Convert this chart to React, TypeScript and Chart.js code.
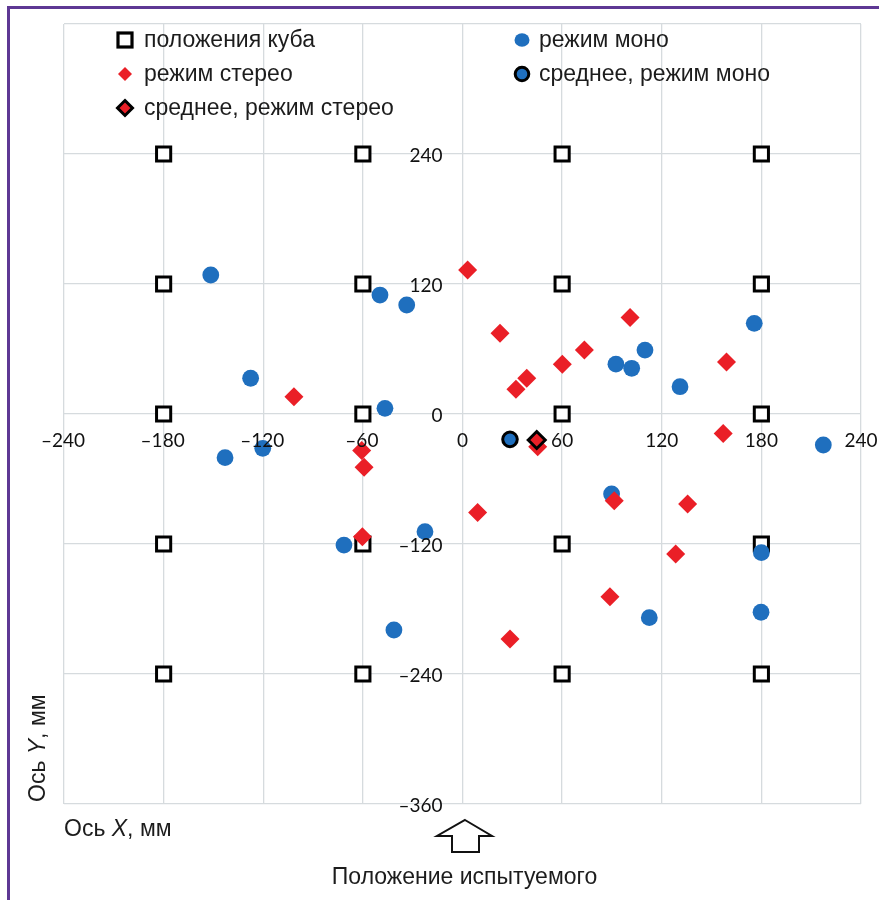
import React, { useEffect, useRef } from 'react';
import { Chart, registerables } from 'chart.js';

Chart.register(...registerables);

// Cube positions (mm)
const cubeX = [-180, -60, 60, 180, -180, -60, 60, 180, -180, -60, 60, 180, -180, -60, 60, 180, -180, -60, 60, 180];
const cubeY = [240, 240, 240, 240, 120, 120, 120, 120, 0, 0, 0, 0, -120, -120, -120, -120, -240, -240, -240, -240];

// Mono mode responses
const monoX = [-151.6, -49.7, -33.6, -127.6, -46.7, -143, -120.3, -71.4, -22.6, -41.3, 92.4, 101.9, 109.9, 131, 175.7, 217.3, 89.8, 112.5, 180, 179.8];
const monoY = [128.3, 109.8, 100.6, 33, 5.2, -40.3, -31.7, -121, -108.6, -199.4, 46, 42.2, 59, 25.2, 83.7, -28.6, -73.8, -188, -128, -183];

// Stereo mode responses
const stereoX = [3.1, 22.6, 38.7, 32.2, 60.1, 73.4, 100.9, 159, -101.5, -60.7, -59.3, -60.3, 45.3, 9.1, 91.4, 135.6, 157, 128.4, 88.8, 28.6];
const stereoY = [133, 74.5, 33, 22.8, 46, 59, 89, 48, 16, -33.8, -49.2, -113.2, -30.2, -91, -80, -83, -17.9, -129.2, -168.6, -207.7];

// Means
const meanMonoX = [28.6];
const meanMonoY = [-23.4];
const meanStereoX = [44.7];
const meanStereoY = [-24];

const xTickValues = [-240, -180, -120, -60, 0, 60, 120, 180, 240];
const yTickValues = [240, 120, 0, -120, -240, -360];

const seriesNames = ['положения куба', 'режим моно', 'режим стерео', 'среднее, режим моно', 'среднее, режим стерео'];
const xTitle: [string, boolean][] = [['Ось ', false], ['X', true], [', мм', false]];
const yTitle: [string, boolean][] = [['Ось ', false], ['Y', true], [', мм', false]];
const subjectLabel = 'Положение испытуемого';

const BLUE = '#1f6fbe';
const RED = '#ea1f27';
const TEXT = '#1c1c1c';
const FONT = '"Liberation Sans", Arial, sans-serif';

const zip = (xs: number[], ys: number[]) => xs.map((x, i) => ({ x, y: ys[i] }));
const fmt = (v: number) => (v < 0 ? '–' + Math.abs(v) : String(v));

function drawMixed(ctx: CanvasRenderingContext2D, parts: [string, boolean][], x: number, y: number, size: number) {
  let cx = x;
  for (const [t, italic] of parts) {
    ctx.font = `${italic ? 'italic ' : ''}${size}px ${FONT}`;
    ctx.fillText(t, cx, y);
    cx += ctx.measureText(t).width;
  }
}

function diamond(ctx: CanvasRenderingContext2D, x: number, y: number, r: number) {
  ctx.beginPath();
  ctx.moveTo(x, y - r);
  ctx.lineTo(x + r, y);
  ctx.lineTo(x, y + r);
  ctx.lineTo(x - r, y);
  ctx.closePath();
}

const decor = {
  id: 'decor',
  beforeDraw(chart: any) {
    const ctx: CanvasRenderingContext2D = chart.ctx;
    ctx.save();
    ctx.fillStyle = '#ffffff';
    ctx.fillRect(0, 0, chart.width, chart.height);
    ctx.strokeStyle = '#5e3894';
    ctx.lineWidth = 3;
    ctx.beginPath();
    ctx.moveTo(8.5, chart.height);
    ctx.lineTo(8.5, 7.5);
    ctx.lineTo(chart.width, 7.5);
    ctx.stroke();
    ctx.restore();
  },
  afterDatasetsDraw(chart: any) {
    const ctx: CanvasRenderingContext2D = chart.ctx;
    const xs = chart.scales.x;
    const ys = chart.scales.y;
    const area = chart.chartArea;
    const x0 = xs.getPixelForValue(0);
    const y0 = ys.getPixelForValue(0);
    ctx.save();

    // tick labels
    ctx.fillStyle = '#111';
    ctx.font = '19px Lato, "Open Sans", sans-serif';
    ctx.textBaseline = 'alphabetic';
    ctx.textAlign = 'center';
    xTickValues.forEach((v) => ctx.fillText(fmt(v), xs.getPixelForValue(v) - (v < 0 ? 1 : 0), y0 + 32.5));
    ctx.textAlign = 'right';
    yTickValues.forEach((v) => ctx.fillText(fmt(v), x0 - 20, ys.getPixelForValue(v) + 7.5));

    // legend
    const colMarker = [area.left + 61, area.left + 458];
    const colText = [area.left + 80, area.left + 475];
    const rowY = [area.top + 16, area.top + 50, area.top + 84];
    seriesNames.forEach((name, i) => {
      const col = i % 2;
      const row = Math.floor(i / 2);
      const mx = colMarker[col];
      const my = rowY[row];
      ctx.save();
      if (i === 0) {
        ctx.fillStyle = '#fff';
        ctx.fillRect(mx - 7, my - 7, 14, 14);
        ctx.strokeStyle = '#000';
        ctx.lineWidth = 3.2;
        ctx.strokeRect(mx - 7, my - 7, 14, 14);
      } else if (i === 1) {
        ctx.fillStyle = BLUE;
        ctx.beginPath();
        ctx.ellipse(mx, my, 7.5, 6.8, 0, 0, Math.PI * 2);
        ctx.fill();
      } else if (i === 2) {
        ctx.fillStyle = RED;
        diamond(ctx, mx, my, 7);
        ctx.fill();
      } else if (i === 3) {
        ctx.fillStyle = BLUE;
        ctx.strokeStyle = '#000';
        ctx.lineWidth = 3;
        ctx.beginPath();
        ctx.arc(mx, my, 6.8, 0, Math.PI * 2);
        ctx.fill();
        ctx.stroke();
      } else {
        ctx.fillStyle = RED;
        ctx.strokeStyle = '#000';
        ctx.lineWidth = 3;
        diamond(ctx, mx, my, 7.5);
        ctx.fill();
        ctx.stroke();
      }
      ctx.restore();
      ctx.fillStyle = TEXT;
      ctx.textAlign = 'left';
      ctx.textBaseline = 'alphabetic';
      ctx.font = `23px ${FONT}`;
      ctx.fillText(name, colText[col], my + 7);
    });

    // axis titles
    ctx.fillStyle = TEXT;
    ctx.textAlign = 'left';
    drawMixed(ctx, xTitle, area.left, area.bottom + 32, 23);
    ctx.save();
    ctx.translate(45, area.bottom - 2);
    ctx.rotate(-Math.PI / 2);
    drawMixed(ctx, yTitle, 0, 0, 23);
    ctx.restore();

    // subject position arrow
    const ab = area.bottom;
    ctx.strokeStyle = '#111';
    ctx.lineWidth = 2;
    ctx.beginPath();
    ctx.moveTo(x0 + 2.5, ab + 16);
    ctx.lineTo(x0 + 29.5, ab + 32);
    ctx.lineTo(x0 + 16.5, ab + 32);
    ctx.lineTo(x0 + 16.5, ab + 48);
    ctx.lineTo(x0 - 10.5, ab + 48);
    ctx.lineTo(x0 - 10.5, ab + 32);
    ctx.lineTo(x0 - 25.5, ab + 32);
    ctx.closePath();
    ctx.stroke();

    ctx.font = `23px ${FONT}`;
    ctx.textAlign = 'center';
    ctx.fillText(subjectLabel, x0 + 2, ab + 80);
    ctx.restore();
  },
};

export default function App() {
  const ref = useRef<HTMLCanvasElement>(null);
  useEffect(() => {
    if (!ref.current) return;
    const gridCommon = { color: '#d6dbde', lineWidth: 1.3, drawTicks: false };
    const chart = new Chart(ref.current, {
      type: 'scatter',
      data: {
        datasets: [
          {
            label: seriesNames[0],
            data: zip(cubeX, cubeY),
            pointStyle: 'rect',
            pointRadius: 10,
            borderWidth: 3,
            borderColor: '#000',
            backgroundColor: '#fff',
            order: 3,
          },
          {
            label: seriesNames[1],
            data: zip(monoX, monoY),
            pointStyle: 'circle',
            pointRadius: 8.4,
            borderWidth: 0,
            borderColor: BLUE,
            backgroundColor: BLUE,
            order: 2,
          },
          {
            label: seriesNames[2],
            data: zip(stereoX, stereoY),
            pointStyle: 'rectRot',
            pointRadius: 9.5,
            borderWidth: 0,
            borderColor: RED,
            backgroundColor: RED,
            order: 1,
          },
          {
            label: seriesNames[3],
            data: zip(meanMonoX, meanMonoY),
            pointStyle: 'circle',
            pointRadius: 7.3,
            borderWidth: 3,
            borderColor: '#000',
            backgroundColor: BLUE,
            order: 0,
          },
          {
            label: seriesNames[4],
            data: zip(meanStereoX, meanStereoY),
            pointStyle: 'rectRot',
            pointRadius: 8.5,
            borderWidth: 3,
            borderColor: '#000',
            backgroundColor: RED,
            order: 0,
          },
        ],
      },
      options: {
        responsive: false,
        animation: false,
        events: [],
        layout: { padding: { left: 64, top: 24, right: 18, bottom: 96 } },
        plugins: { legend: { display: false }, tooltip: { enabled: false } },
        scales: {
          x: {
            type: 'linear',
            min: -240,
            max: 240,
            ticks: { stepSize: 60, display: false },
            grid: gridCommon,
            border: { display: false },
          },
          y: {
            type: 'linear',
            min: -360,
            max: 360,
            ticks: { stepSize: 120, display: false },
            grid: gridCommon,
            border: { display: false },
          },
        },
      },
      plugins: [decor],
    });
    return () => chart.destroy();
  }, []);
  return (
    <div style={{ position: 'absolute', left: 0, top: 0, width: 879, height: 900 }}>
      <canvas ref={ref} width={879} height={900} style={{ display: 'block', width: 879, height: 900 }} />
    </div>
  );
}
